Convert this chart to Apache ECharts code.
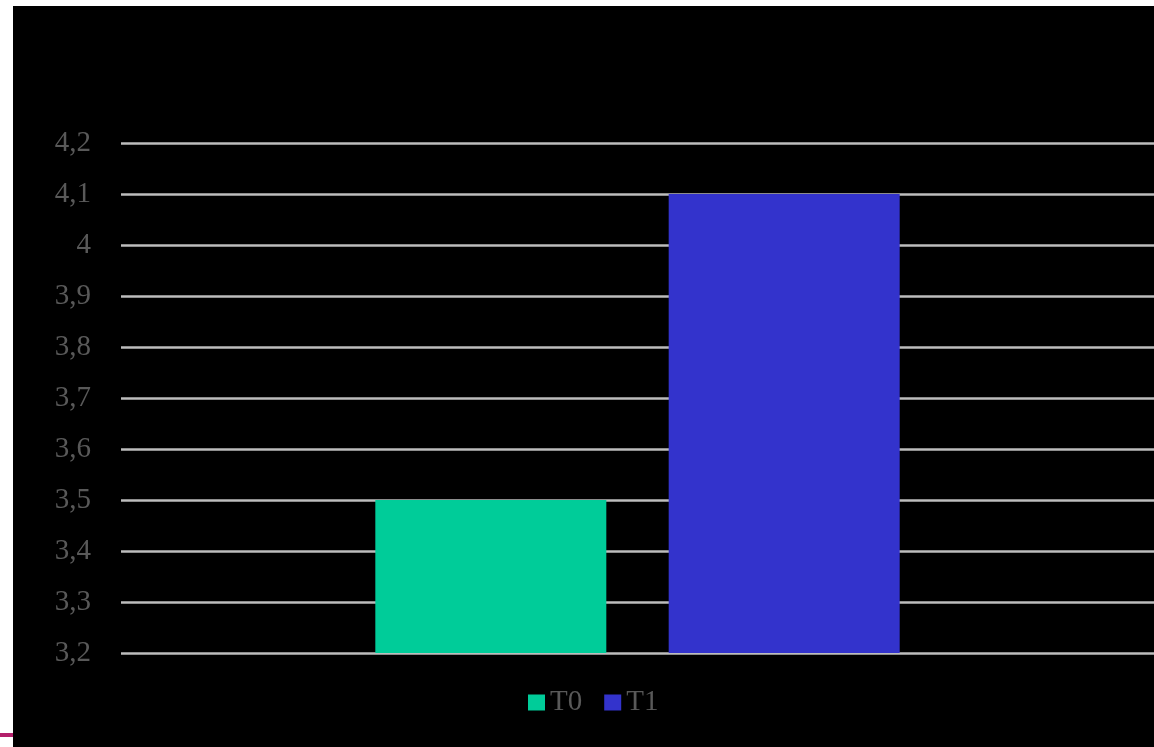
<!DOCTYPE html>
<html>
<head>
<meta charset="utf-8">
<script src="https://cdn.jsdelivr.net/npm/echarts@6/dist/echarts.min.js"></script>
<style>
  html, body { margin: 0; padding: 0; background: #ffffff; width: 1154px; height: 747px; overflow: hidden; }
  #frame { position: absolute; left: 13px; top: 6px; width: 1141px; height: 741px; background: #000; }
  #chart { width: 1141px; height: 741px; }
  #accent { position: absolute; left: 0; top: 733px; width: 13px; height: 4px; background: #b3206b; }
</style>
</head>
<body>
<div id="frame"><div id="chart"></div></div>
<div id="accent"></div>
<script>
const categories = [''];
const seriesNames = ['T0', 'T1'];
const valuesT0 = [3.5];
const valuesT1 = [4.1];
const seriesColors = ['#00CC99', '#3333CC'];
const yMin = 3.2, yMax = 4.2, yStep = 0.1;

const chart = echarts.init(document.getElementById('chart'), null, { renderer: 'canvas' });
const labelFont = 'Liberation Serif, Times New Roman, serif';
chart.setOption({
  backgroundColor: '#000',
  animation: false,
  grid: { left: 108, right: 0, top: 137, bottom: 94, containLabel: false },
  legend: {
    data: seriesNames,
    left: 510, top: 677,
    itemWidth: 17, itemHeight: 16, itemGap: 22,
    icon: 'rect',
    textStyle: { color: '#595959', fontFamily: labelFont, fontSize: 29 }
  },
  xAxis: {
    type: 'category', data: categories,
    axisLine: { show: false }, axisTick: { show: false }, axisLabel: { show: false }
  },
  yAxis: {
    type: 'value', min: yMin, max: yMax, interval: yStep,
    axisLine: { show: false }, axisTick: { show: false },
    axisLabel: {
      color: '#595959', fontFamily: labelFont, fontSize: 29, margin: 30,
      formatter: v => String(Number(v.toFixed(1))).replace('.', ',')
    },
    splitLine: { lineStyle: { color: '#bdbdbd', width: 2.5 } }
  },
  series: [
    { name: seriesNames[0], type: 'bar', data: valuesT0, barWidth: 231, barGap: '27%', itemStyle: { color: seriesColors[0] } },
    { name: seriesNames[1], type: 'bar', data: valuesT1, barWidth: 231, barGap: '27%', itemStyle: { color: seriesColors[1] } }
  ]
});
</script>
</body>
</html>
